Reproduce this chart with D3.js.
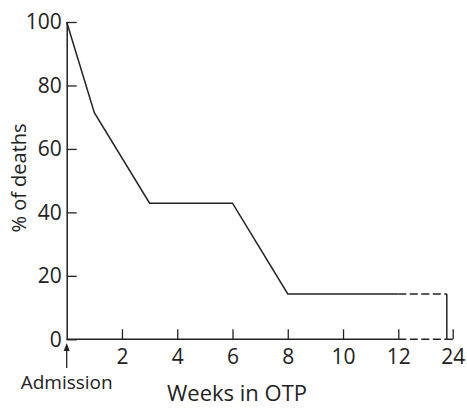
<!DOCTYPE html>
<html>
<head>
<meta charset="utf-8">
<script src="https://cdn.jsdelivr.net/npm/d3@7"></script>
<style>
  body { margin: 0; background: #fff; }
  text { font-family: "Open Sans", sans-serif; fill: #222; }
</style>
</head>
<body>
<div id="chart"></div>
<script>
// data
const weeks = [0, 1, 3, 6, 8, 12];
const deaths = [100, 71.4, 42.9, 42.9, 14.3, 14.3];
const endWeek = 22.7;           // dashed tail ends just before the 24 tick
const xTicks = [2, 4, 6, 8, 10, 12, 24];
const yTicks = [0, 20, 40, 60, 80, 100];

const W = 467, H = 408;

const svg = d3.select("#chart")
  .append("svg")
  .attr("width", W)
  .attr("height", H);

// broken axis: 12 -> 24 squeezed into the last step
const x = d3.scaleLinear()
  .domain([0, 12, 24])
  .range([66.7, 398.3, 452.7]);

const y = d3.scaleLinear()
  .domain([0, 100])
  .range([339.3, 22]);

const ink = "#222";

// y axis
const yAxis = d3.axisLeft(y)
  .tickValues(yTicks)
  .tickSizeInner(-10)
  .tickSizeOuter(0)
  .tickPadding(5);

const gy = svg.append("g")
  .attr("transform", `translate(${x(0)},0)`)
  .call(yAxis)
  .attr("font-size", 21)
  .attr("font-family", null);
gy.select(".domain").attr("stroke", ink).attr("stroke-width", 1.5);
gy.selectAll(".tick line").attr("stroke", ink).attr("stroke-width", 1.3);
gy.selectAll(".tick text").attr("fill", ink);

// x axis (domain line drawn by hand for the dashed break)
const xAxis = d3.axisBottom(x)
  .tickValues(xTicks)
  .tickSizeInner(-10)
  .tickSizeOuter(0)
  .tickPadding(10);

const gx = svg.append("g")
  .attr("transform", `translate(0,${y(0)})`)
  .call(xAxis)
  .attr("font-size", 21)
  .attr("font-family", null);
gx.select(".domain").remove();
gx.selectAll(".tick line").attr("stroke", ink).attr("stroke-width", 1.3);
gx.selectAll(".tick text").attr("fill", ink);

svg.append("line")
  .attr("x1", x(0)).attr("x2", x(12))
  .attr("y1", y(0)).attr("y2", y(0))
  .attr("stroke", ink).attr("stroke-width", 1.5);
svg.append("line")
  .attr("x1", x(12)).attr("x2", x(endWeek))
  .attr("y1", y(0)).attr("y2", y(0))
  .attr("stroke", ink).attr("stroke-width", 1.5)
  .attr("stroke-dasharray", "8,3.5");
svg.append("line")
  .attr("x1", x(endWeek)).attr("x2", x(24))
  .attr("y1", y(0)).attr("y2", y(0))
  .attr("stroke", ink).attr("stroke-width", 1.5);

// curve
const pts = weeks.map((w, i) => [w, deaths[i]]);
const line = d3.line().x(d => x(d[0])).y(d => y(d[1]));

svg.append("path")
  .datum(pts)
  .attr("d", line)
  .attr("fill", "none")
  .attr("stroke", ink)
  .attr("stroke-width", 1.5);

const last = deaths[deaths.length - 1];
svg.append("line")
  .attr("x1", x(12)).attr("x2", x(endWeek))
  .attr("y1", y(last)).attr("y2", y(last))
  .attr("stroke", ink).attr("stroke-width", 1.5)
  .attr("stroke-dasharray", "8,3.5");
svg.append("line")
  .attr("x1", x(endWeek)).attr("x2", x(endWeek))
  .attr("y1", y(last)).attr("y2", y(0))
  .attr("stroke", ink).attr("stroke-width", 1.5);

// admission arrow
const ax = x(0);
svg.append("line")
  .attr("x1", ax).attr("x2", ax)
  .attr("y1", 368).attr("y2", 347)
  .attr("stroke", ink).attr("stroke-width", 1.3);
svg.append("path")
  .attr("d", `M${ax},343 L${ax - 3},351 L${ax + 3},351 Z`)
  .attr("fill", ink);

svg.append("text")
  .attr("x", ax)
  .attr("y", 389)
  .attr("text-anchor", "middle")
  .attr("font-size", 19)
  .text("Admission");

// axis titles
svg.append("text")
  .attr("x", 237)
  .attr("y", 401)
  .attr("text-anchor", "middle")
  .attr("font-size", 22)
  .text("Weeks in OTP");

svg.append("text")
  .attr("transform", "translate(26,178) rotate(-90)")
  .attr("text-anchor", "middle")
  .attr("font-size", 20)
  .text("% of deaths");
</script>
</body>
</html>
